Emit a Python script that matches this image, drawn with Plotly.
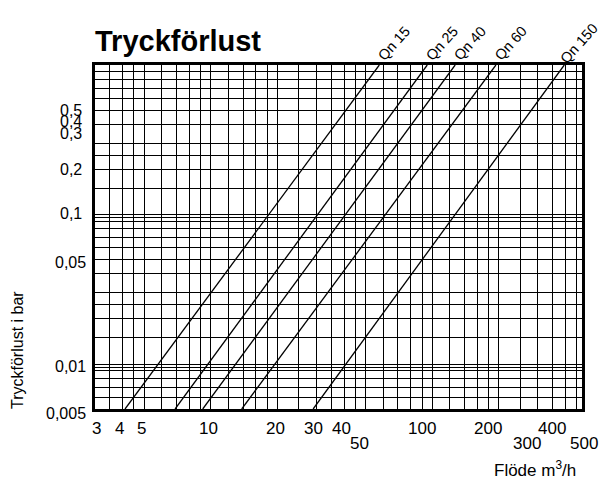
import math
import plotly.graph_objects as go

# ---- data ----
series_names = ["Qn 15", "Qn 25", "Qn 40", "Qn 60", "Qn 150"]
pressure_ends = [0.005, 1.0]                       # bar, bottom and top of the chart
flow_at_low = [4.1, 6.9, 9.2, 13.8, 29.0]          # m3/h at 0.005 bar
flow_at_high = [57.7, 95.0, 127.0, 194.0, 395.0]   # m3/h at 1 bar

x_grid = [3, 3.5, 4, 4.5, 5, 6, 7, 8, 9, 10, 12, 14, 16, 18, 20, 25, 30, 35, 40, 45,
          50, 60, 70, 80, 90, 100, 120, 140, 160, 180, 200, 250, 300, 350, 400, 450]
y_grid = [0.005, 0.006, 0.007, 0.008, 0.009, 0.0095, 0.01, 0.015, 0.02, 0.025, 0.03,
          0.04, 0.05, 0.06, 0.07, 0.08, 0.09, 0.095, 0.1, 0.15, 0.2, 0.25, 0.3, 0.4,
          0.5, 0.6, 0.7, 0.8, 0.9, 1.0]

x_tick_values = [3, 4, 5, 10, 20, 30, 40, 50, 100, 200, 300, 400, 500]
x_tick_labels = ["3", "4", "5", "10", "20", "30", "40", "50", "100", "200", "300", "400", "500"]
x_tick_lower = ["50", "300", "500"]
y_tick_values = [0.005, 0.01, 0.05, 0.1, 0.2, 0.3, 0.4, 0.5]
y_tick_labels = ["0,005", "0,01", "0,05", "0,1", "0,2", "0,3", "0,4", "0,5"]

x_range = [3, 475]
y_range = [0.005, 1.0]

# ---- styling ----
FONT = "Liberation Sans, Arial, Helvetica, sans-serif"
x_label_nudge = {"3": 1, "4": -3, "5": -3, "10": -2, "20": -2, "30": -3, "40": -3,
                 "50": -6, "100": -10, "200": -11, "300": -11, "400": -13, "500": -3}
y_label_nudge = {"0,005": -4, "0,01": -2, "0,05": -2.5, "0,1": 1.5, "0,2": 0,
                 "0,3": 9.5, "0,4": 2.5, "0,5": 0}
y_label_gap = {"0,005": -7, "0,01": -7, "0,05": -7, "0,1": -11, "0,2": -11,
               "0,3": -11, "0,4": -11, "0,5": -11}

lx0, lx1 = math.log10(x_range[0]), math.log10(x_range[1])


def x_paper(v):
    """Position of a flow value as a fraction of the log x axis."""
    return (math.log10(v) - lx0) / (lx1 - lx0)


fig = go.Figure()
for name, q0, q1 in zip(series_names, flow_at_low, flow_at_high):
    fig.add_trace(go.Scatter(x=[q0, q1], y=pressure_ends, mode="lines", name=name,
                             line=dict(color="black", width=1.3), showlegend=False,
                             hoverinfo="skip"))

annotations = []
# series labels above the top end of each line
for name, q1 in zip(series_names, flow_at_high):
    annotations.append(dict(x=math.log10(q1), xref="x", y=1, yref="paper",
                            text=name, showarrow=False, textangle=-48,
                            xanchor="center", yanchor="middle", xshift=15, yshift=22,
                            font=dict(family=FONT, size=14.5, color="black")))
# x tick labels (two staggered rows)
for v, t in zip(x_tick_values, x_tick_labels):
    lower = t in x_tick_lower
    annotations.append(dict(x=x_paper(v), xref="paper", y=0, yref="paper", text=t,
                            showarrow=False, xanchor="center", yanchor="middle",
                            xshift=x_label_nudge.get(t, 0), yshift=-34 if lower else -19,
                            font=dict(family=FONT, size=17, color="black")))
# y tick labels
for v, t in zip(y_tick_values, y_tick_labels):
    annotations.append(dict(x=0, xref="paper", y=math.log10(v), yref="y", text=t,
                            showarrow=False, xanchor="right", yanchor="middle",
                            xshift=y_label_gap.get(t, -7), yshift=y_label_nudge.get(t, 0),
                            font=dict(family=FONT, size=16, color="black")))
# title
annotations.append(dict(x=0, xref="paper", y=1, yref="paper", text="<b>Tryckförlust</b>",
                        showarrow=False, xanchor="left", yanchor="middle", xshift=-2,
                        yshift=24, font=dict(family=FONT, size=29, color="black")))
# axis titles
annotations.append(dict(x=0, xref="paper", y=0, yref="paper", text="Tryckförlust i bar",
                        showarrow=False, textangle=-90, xanchor="center",
                        yanchor="middle", xshift=-78, yshift=59,
                        font=dict(family=FONT, size=16, color="black")))
annotations.append(dict(x=1, xref="paper", y=0, yref="paper", text="Flöde m<sup>3</sup>/h",
                        showarrow=False, xanchor="right", yanchor="middle",
                        xshift=-4, yshift=-60,
                        font=dict(family=FONT, size=17, color="black")))

# the page body adds an 8 px offset, so the figure is 8 px smaller than the window
fig.update_layout(
    width=602, height=474,
    margin=dict(l=87, r=28, t=57, b=73),
    paper_bgcolor="white", plot_bgcolor="white",
    annotations=annotations,
    showlegend=False,
    xaxis=dict(type="log", range=[lx0, lx1],
               tickmode="array", tickvals=x_grid, showticklabels=False, ticks="",
               showgrid=True, gridcolor="black", gridwidth=1,
               showline=True, linecolor="black", linewidth=3, mirror=True,
               zeroline=False, fixedrange=True),
    yaxis=dict(type="log", range=[math.log10(y_range[0]), math.log10(y_range[1])],
               tickmode="array", tickvals=y_grid, showticklabels=False, ticks="",
               showgrid=True, gridcolor="black", gridwidth=1,
               showline=True, linecolor="black", linewidth=3, mirror=True,
               zeroline=False, fixedrange=True),
)

fig.write_html("out.html")
